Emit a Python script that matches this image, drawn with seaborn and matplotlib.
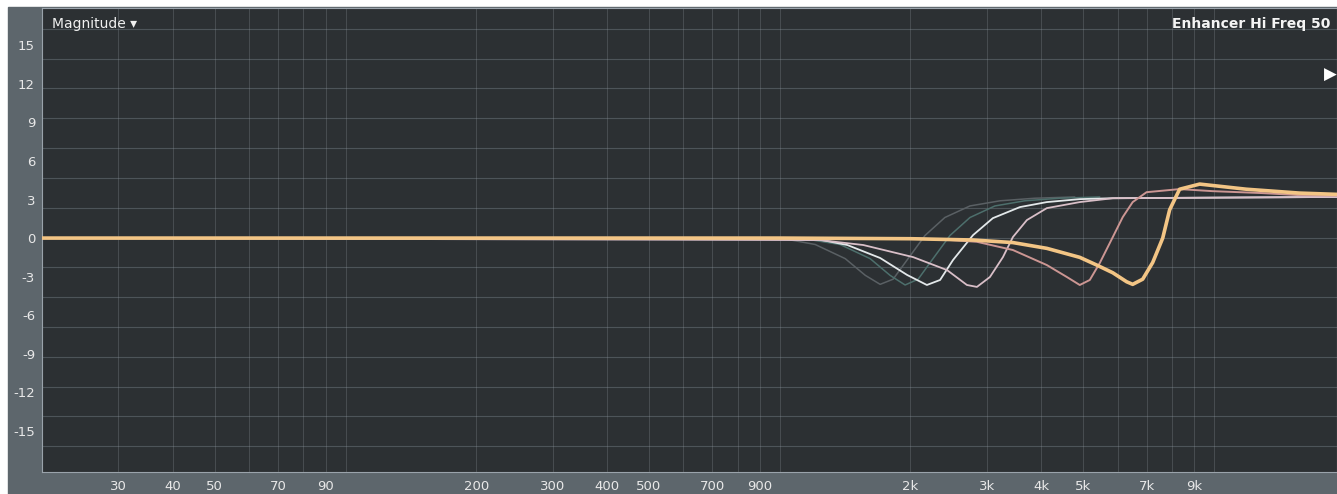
import numpy as np
import pandas as pd
import matplotlib
matplotlib.use("Agg")
import matplotlib.pyplot as plt
from matplotlib.patches import Rectangle
import seaborn as sns

# EQ response curves (frequency in Hz, gain in dB)
gray_freq = [20, 1003, 1207, 1415, 1574, 1703, 1824, 1965, 2160, 2400, 2742, 3216, 3868, 4780]
gray_db = [0, 0, -0.5, -1.6, -2.9, -3.6, -3.2, -1.7, 0.2, 1.6, 2.5, 2.9, 3.1, 3.2]

teal_freq = [20, 1115, 1377, 1615, 1795, 1944, 2083, 2243, 2466, 2742, 3130, 3668, 4416, 5457]
teal_db = [0, 0, -0.5, -1.6, -2.9, -3.65, -3.2, -1.7, 0.2, 1.6, 2.5, 2.9, 3.1, 3.2]

white_freq = [20, 1194, 1431, 1703, 1965, 2182, 2340, 2506, 2787, 3096, 3573, 4122, 4908, 5848, 19200]
white_db = [0, -0.02, -0.54, -1.55, -2.87, -3.65, -3.26, -1.71, 0.23, 1.55, 2.41, 2.8, 3.03, 3.1, 3.2]

mauve_freq = [20, 1239, 1557, 2028, 2428, 2698, 2845, 3048, 3266, 3443, 3708, 4122, 4908, 5848, 19200]
mauve_db = [0, -0.16, -0.54, -1.48, -2.49, -3.65, -3.8, -3.03, -1.48, 0.08, 1.4, 2.33, 2.8, 3.1, 3.2]

pink_freq = [20, 1893, 2340, 2845, 3443, 4122, 4584, 4908, 5176, 5457, 5848, 6164, 6498, 6995,
             8334, 9930, 12927, 15735, 19200]
pink_db = [0, 0, -0.1, -0.29, -0.93, -2.1, -3.03, -3.65, -3.26, -1.94, 0.08, 1.63, 2.8, 3.57,
           3.81, 3.65, 3.5, 3.34, 3.3]

orange_freq = [20, 1000, 2000, 2787, 3443, 4122, 4908, 5370, 5848, 6294, 6498, 6852, 7226, 7620,
               7905, 8334, 9270, 11880, 15735, 19200]
orange_db = [0, 0, -0.05, -0.15, -0.35, -0.8, -1.5, -2.1, -2.7, -3.4, -3.6, -3.2, -1.9, 0,
             2.2, 3.8, 4.2, 3.8, 3.5, 3.4]

db_ticks = [15, 12, 9, 6, 3, 0, -3, -6, -9, -12, -15]
freq_ticks = [30, 40, 50, 70, 90, 200, 300, 400, 500, 700, 900, 2000, 3000, 4000, 5000, 7000, 9000]
freq_labels = ["30", "40", "50", "70", "90", "200", "300", "400", "500", "700", "900",
               "2k", "3k", "4k", "5k", "7k", "9k"]

sns.set_theme(style="dark")
plt.rcParams['font.family'] = ['DejaVu Sans']

W, H = 1337, 494
fig = plt.figure(figsize=(W / 100, H / 100), dpi=100, facecolor="white")
# grey strip behind the axis labels
fig.add_artist(Rectangle((8 / W, 0), 1, (H - 7) / H, transform=fig.transFigure,
                         color="#5d666c", zorder=0))
ax = fig.add_axes([42 / W, 22 / H, (W - 42) / W, (472 - 8) / H])
ax.set_facecolor("#2c3033")

ax.set_xscale("log")
ax.set_xlim(20, 19200)
ax.set_ylim(-18.2, 17.9)

# grid
grid_f = [f * m for m in (10, 100, 1000, 10000) for f in range(2, 11)]
for f in grid_f:
    ax.axvline(f, color="#8a9096", lw=0.7, alpha=0.3, zorder=1)
for g in np.arange(-16.2, 17.5, 2.32):
    ax.axhline(g, color="#8c98a2", lw=0.8, alpha=0.35, zorder=1)

curves = [
    (gray_freq, gray_db, "#5a6064", 1.1),
    (teal_freq, teal_db, "#4d6f6c", 1.1),
    (white_freq, white_db, "#e3e8ea", 1.3),
    (mauve_freq, mauve_db, "#d9bfc8", 1.3),
    (pink_freq, pink_db, "#cc9693", 1.4),
    (orange_freq, orange_db, "#f3c585", 2.6),
]
for i, (fq, db, col, lw) in enumerate(curves):
    df = pd.DataFrame({"freq": fq, "db": db})
    sns.lineplot(data=df, x="freq", y="db", ax=ax, color=col, linewidth=lw,
                 zorder=3 + i, estimator=None, sort=False)

ax.set_xlabel("")
ax.set_ylabel("")
ax.set_xticks(freq_ticks)
ax.set_xticklabels(freq_labels)
ax.xaxis.set_minor_locator(matplotlib.ticker.NullLocator())
ax.set_yticks(db_ticks)
ax.set_yticklabels([str(v) for v in db_ticks])
ax.tick_params(axis="x", colors="#e8e8e8", labelsize=9.5, length=0, pad=6)
ax.tick_params(axis="y", colors="#e8e8e8", labelsize=9.5, length=0, pad=5)
for s in ax.spines.values():
    s.set_color("#9aa3ab")
    s.set_linewidth(0.8)

ax.text(0.0075, 0.965, "Magnitude \u25be", transform=ax.transAxes, color="#f0f0f0",
        fontsize=10, ha="left", va="center")
ax.text(0.995, 0.965, "Enhancer Hi Freq 50", transform=ax.transAxes, color="#f4f4f4",
        fontsize=10, fontweight="bold", ha="right", va="center")
ax.text(1.0, 0.855, "\u25b6", transform=ax.transAxes, color="white",
        fontsize=12, ha="right", va="center")

fig.savefig("out.png", dpi=100, facecolor=fig.get_facecolor())
